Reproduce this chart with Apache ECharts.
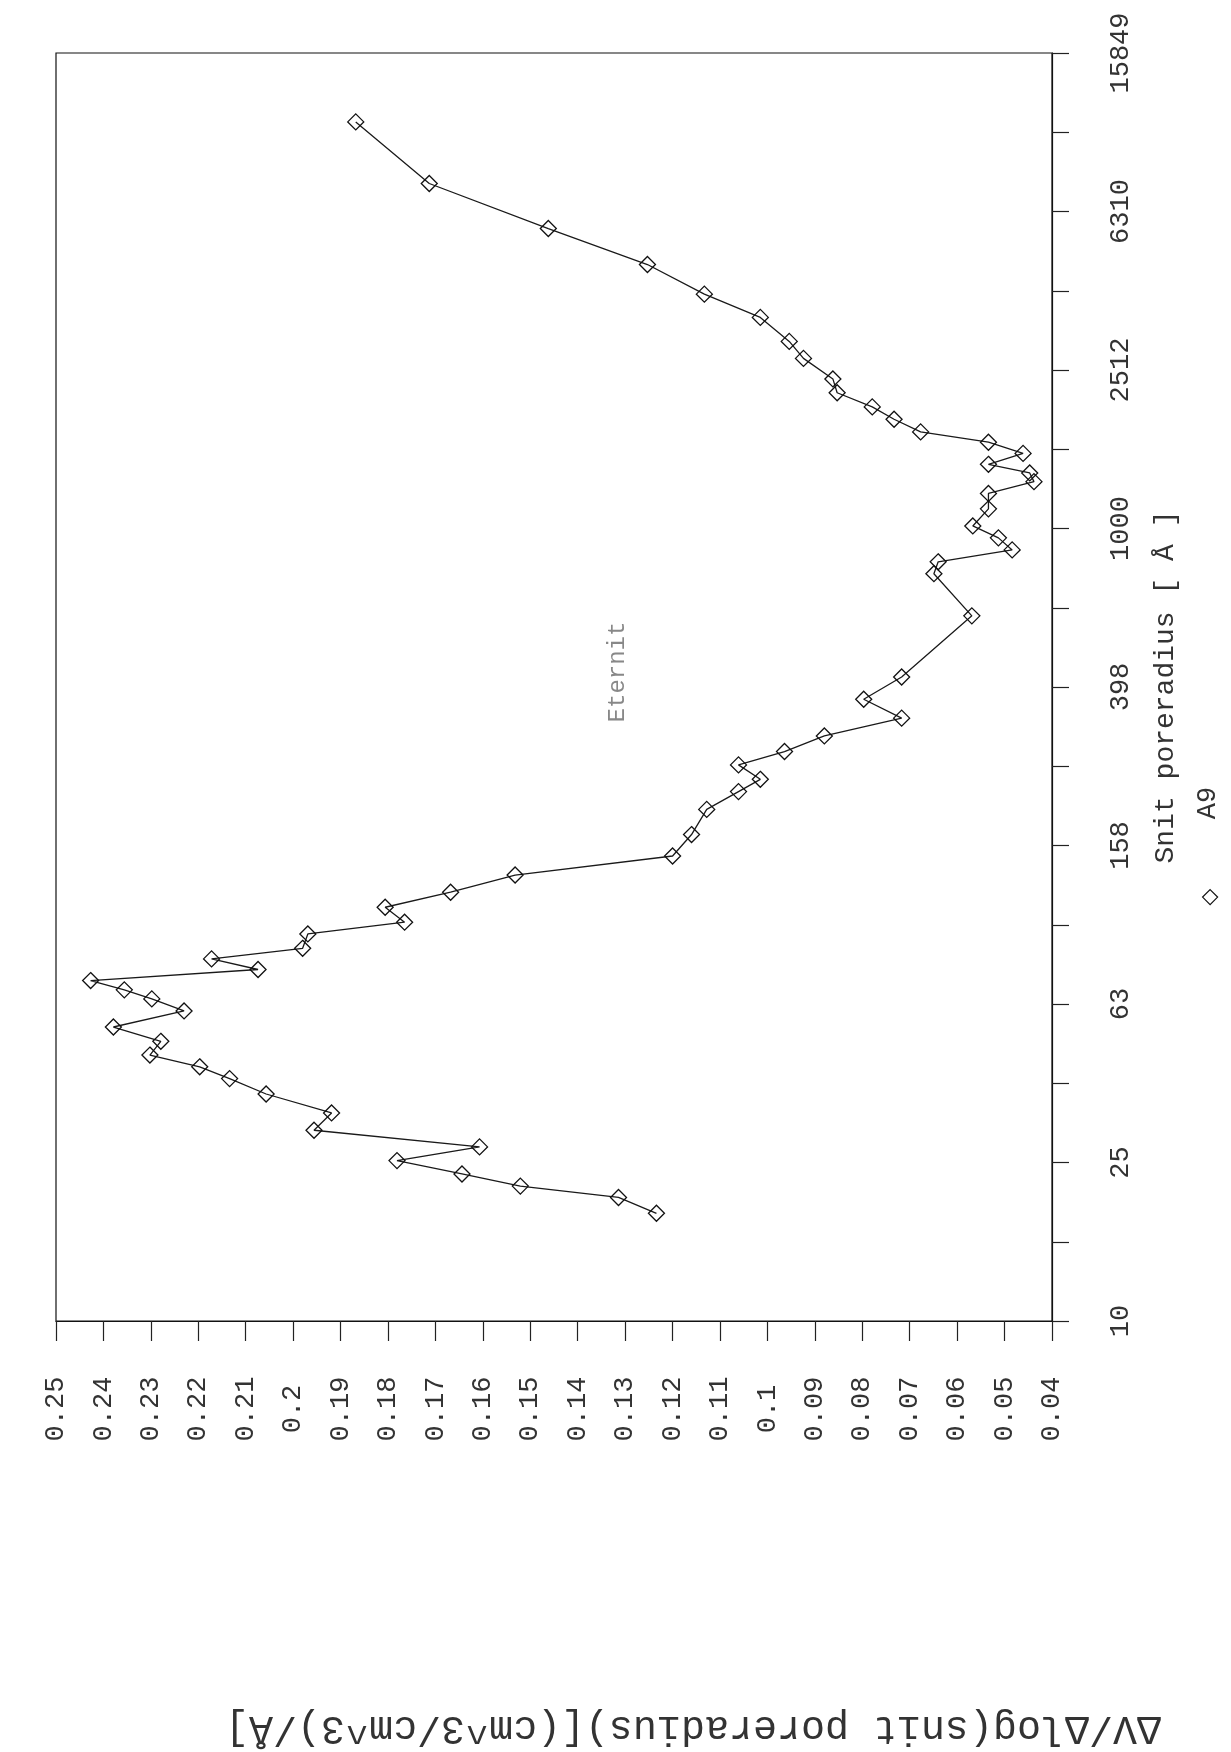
<!DOCTYPE html>
<html>
<head>
<meta charset="utf-8">
<script src="https://cdn.jsdelivr.net/npm/echarts@6/dist/echarts.min.js"></script>
<style>
html,body{margin:0;padding:0;background:#fff;}
#chart{width:1231px;height:1752px;}
</style>
</head>
<body>
<div id="chart"></div>
<script>
// Pore radius [Å] (log axis, drawn vertically)
var radius = [18.7, 20.5, 21.9, 23.5, 25.4, 27.5, 30.3, 33.5, 37.4, 40.9,
  43.8, 46.9, 50.8, 55.2, 60.6, 65.0, 68.5, 72.3, 77.1, 82.0,
  87.2, 94.8, 101.5, 110.7, 120.8, 133.5, 149.1, 168.9, 195.5, 216.8,
  232.8, 253.2, 273.6, 299.6, 332.2, 370.8, 421.9, 602, 769, 824,
  883, 947, 1015, 1121, 1226, 1313, 1381, 1452, 1547, 1651,
  1753, 1887, 2027, 2201, 2385, 2687, 2966, 3410, 3903, 4636,
  5715, 7425, 10620];
// dV/dlog(r) values (drawn horizontally, inverted)
var dvdlog = [0.1234, 0.1314, 0.1521, 0.1644, 0.1781, 0.1607, 0.1956, 0.1919, 0.2057, 0.2134,
  0.2197, 0.2302, 0.2279, 0.2379, 0.2230, 0.2298, 0.2356, 0.2427, 0.2074, 0.2172,
  0.1980, 0.1969, 0.1765, 0.1806, 0.1668, 0.1532, 0.1200, 0.1160, 0.1128, 0.1061,
  0.1015, 0.1061, 0.0964, 0.0880, 0.0717, 0.0797, 0.0717, 0.0569, 0.0649, 0.0640,
  0.0484, 0.0513, 0.0567, 0.0534, 0.0534, 0.0438, 0.0447, 0.0534, 0.0461, 0.0534,
  0.0677, 0.0733, 0.0779, 0.0853, 0.0862, 0.0924, 0.0954, 0.1015, 0.1133, 0.1253,
  0.1462, 0.1713, 0.1868];
var radiusTickLabels = ['10', '25', '63', '158', '398', '1000', '2512', '6310', '15849'];
var seriesName = 'A9';
var titleText = 'Eternit';
var radiusTitle = 'Snit poreradius [ Å ]';
var valueTitle = 'ΔV/Δlog(snit poreradius)[(cm^3/cm^3)/Å]';

var FONT = '"Liberation Mono","DejaVu Sans Mono",monospace';
var INK = '#333333';

var data = radius.map(function (r, i) { return [dvdlog[i], Math.log10(r)]; });

var chart = echarts.init(document.getElementById('chart'), null, {renderer: 'canvas'});
chart.setOption({
  animation: false,
  backgroundColor: '#ffffff',
  grid: {left: 56, right: 179, top: 53, bottom: 431, show: true,
         borderColor: '#111', borderWidth: 1.2, backgroundColor: 'transparent'},
  xAxis: {
    type: 'value', position: 'bottom', inverse: true,
    min: 0.04, max: 0.25, interval: 0.01,
    axisLine: {show: true, lineStyle: {color: '#111', width: 1.2}},
    axisTick: {show: true, inside: false, length: 20, lineStyle: {color: '#222', width: 1.2}},
    splitLine: {show: false},
    axisLabel: {
      rotate: 90, align: 'center', verticalAlign: 'middle', margin: 88,
      fontFamily: FONT, fontSize: 27, color: INK,
      formatter: function (v) { return String(Math.round(v * 100) / 100); }
    }
  },
  yAxis: {
    type: 'value', position: 'right',
    min: 1, max: 4.2, interval: 0.2,
    name: radiusTitle, nameLocation: 'middle', nameRotate: 90, nameGap: 100,
    nameTextStyle: {fontFamily: FONT, fontSize: 28, color: INK},
    axisLine: {show: true, lineStyle: {color: '#111', width: 1.2}},
    axisTick: {show: true, inside: false, length: 17, lineStyle: {color: '#222', width: 1.2}},
    splitLine: {show: false},
    axisLabel: {
      rotate: 90, align: 'center', verticalAlign: 'middle', margin: 69,
      fontFamily: FONT, fontSize: 27, color: INK,
      formatter: function (v) {
        var k = Math.round((v - 1) / 0.2);
        if (k % 2 !== 0) return '';
        return radiusTickLabels[k / 2] || '';
      }
    }
  },
  legend: {
    show: true, data: [{name: seriesName, icon: 'diamond'}],
    left: 1197, top: 884, itemWidth: 15, itemHeight: 15,
    formatter: function () { return ''; },
    itemStyle: {color: 'rgba(0,0,0,0)', borderColor: '#111', borderWidth: 1.2}
  },
  graphic: [
    {type: 'text', x: 1208, y: 803, rotation: Math.PI / 2,
     style: {text: seriesName, font: '27px ' + FONT, fill: INK, textAlign: 'center', textVerticalAlign: 'middle'}},
    {type: 'text', x: 693, y: 1728, rotation: Math.PI,
     style: {text: valueTitle, font: '40px ' + FONT, fill: INK, textAlign: 'center', textVerticalAlign: 'middle'}},
    {type: 'text', x: 618, y: 672, rotation: Math.PI / 2,
     style: {text: titleText, font: '24px ' + FONT, fill: '#888', textAlign: 'center', textVerticalAlign: 'middle'}}
  ],
  series: [{
    name: seriesName, type: 'line', data: data,
    symbol: 'diamond', symbolSize: 16,
    lineStyle: {color: '#1a1a1a', width: 1.3},
    itemStyle: {color: 'rgba(0,0,0,0)', borderColor: '#111', borderWidth: 1.3},
    emphasis: {disabled: true}
  }]
});
</script>
</body>
</html>
